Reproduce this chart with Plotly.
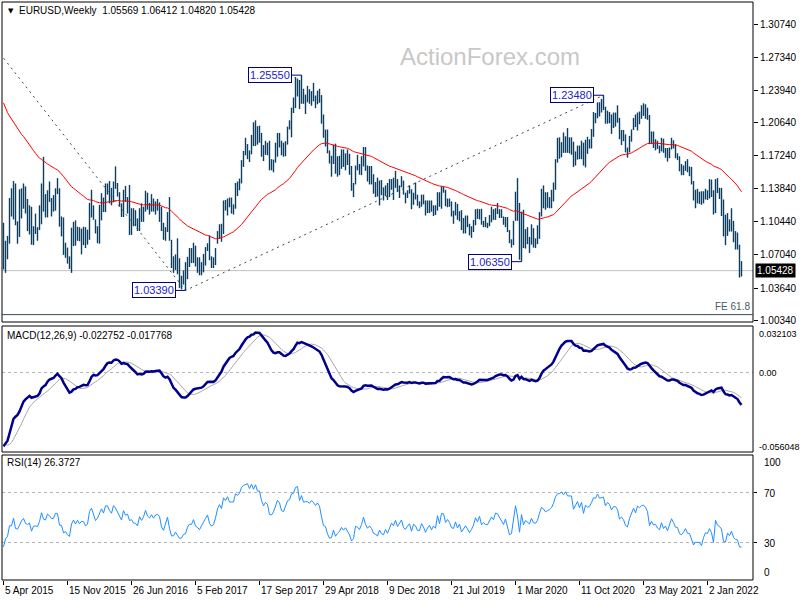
import numpy as np
import plotly.graph_objects as go

# ---------------------------------------------------------------- data
TITLE = "EURUSD,Weekly"
HEADER_OHLC = ["1.05569", "1.06412", "1.04820", "1.05428"]
DATE_LABELS = ["5 Apr 2015", "15 Nov 2015", "26 Jun 2016", "5 Feb 2017",
               "17 Sep 2017", "29 Apr 2018", "9 Dec 2018", "21 Jul 2019",
               "1 Mar 2020", "11 Oct 2020", "23 May 2021", "2 Jan 2022"]
DATE_LABEL_STEP = 32  # weeks between date labels

# weekly closes Jan 2014 - Mar 2015 (indicator warm-up only, not drawn)
PRE_CLOSE = [1.3590, 1.3540, 1.3675, 1.3485, 1.3630, 1.3690, 1.3740, 1.3800, 1.3870, 1.3910,
             1.3790, 1.3750, 1.3700, 1.3890, 1.3810, 1.3830, 1.3870, 1.3760, 1.3695, 1.3630,
             1.3635, 1.3640, 1.3545, 1.3600, 1.3645, 1.3590, 1.3605, 1.3525, 1.3430, 1.3415,
             1.3410, 1.3400, 1.3240, 1.3130, 1.2950, 1.2960, 1.2830, 1.2685, 1.2515, 1.2630,
             1.2760, 1.2670, 1.2485, 1.2450, 1.2525, 1.2390, 1.2450, 1.2290, 1.2465, 1.2225,
             1.2185, 1.2000,
             1.1840, 1.1565, 1.1205, 1.1290, 1.1315, 1.1385, 1.1380, 1.1195, 1.0840, 1.0495,
             1.0825, 1.0890, 1.0970]

# weekly bars, 5 Apr 2015 .. 1 May 2022
HIGH = [
    # 2015
    1.1035, 1.0850, 1.0900, 1.1290, 1.1390, 1.1465, 1.1440, 1.1050, 1.1380, 1.1390,
    1.1440, 1.1410, 1.1280, 1.1215, 1.1200, 1.1000, 1.1130, 1.0990, 1.1215, 1.1440,
    1.1715, 1.1330, 1.1370, 1.1460, 1.1290, 1.1320, 1.1390, 1.1495, 1.1390, 1.1100,
    1.1090, 1.0830, 1.0780, 1.0690, 1.0985, 1.1045, 1.1060, 1.0995, 1.0990,
    # 2016
    1.0975, 1.0995, 1.0990, 1.0965, 1.1240, 1.1375, 1.1215, 1.1070, 1.1000, 1.1220,
    1.1340, 1.1295, 1.1440, 1.1440, 1.1465, 1.1395, 1.1460, 1.1615, 1.1445, 1.1350,
    1.1235, 1.1375, 1.1415, 1.1300, 1.1425, 1.1185, 1.1185, 1.1165, 1.1080, 1.1185,
    1.1235, 1.1200, 1.1365, 1.1345, 1.1240, 1.1330, 1.1285, 1.1255, 1.1280, 1.1245,
    1.1200, 1.1035, 1.0990, 1.1145, 1.1300, 1.0860, 1.0690, 1.0710, 1.0875, 1.0670,
    1.0490, 1.0545,
    # 2017
    1.0630, 1.0685, 1.0775, 1.0775, 1.0830, 1.0800, 1.0680, 1.0680, 1.0630, 1.0715,
    1.0785, 1.0825, 1.0905, 1.0690, 1.0680, 1.0775, 1.0950, 1.1020, 1.1025, 1.1265,
    1.1270, 1.1285, 1.1295, 1.1295, 1.1225, 1.1445, 1.1460, 1.1490, 1.1680, 1.1775,
    1.1910, 1.1845, 1.1780, 1.1940, 1.2070, 1.2090, 1.2030, 1.2035, 1.1960, 1.1835,
    1.1880, 1.1860, 1.1880, 1.1690, 1.1685, 1.1860, 1.1960, 1.1960, 1.1880, 1.1860,
    1.1875, 1.2025, 1.2090,
    # 2018
    1.2220, 1.2325, 1.2535, 1.2520, 1.2505, 1.2555, 1.2415, 1.2355, 1.2445, 1.2410,
    1.2390, 1.2475, 1.2345, 1.2395, 1.2415, 1.2350, 1.2150, 1.1995, 1.1995, 1.1780,
    1.1725, 1.1840, 1.1850, 1.1720, 1.1725, 1.1790, 1.1790, 1.1750, 1.1790, 1.1745,
    1.1620, 1.1445, 1.1625, 1.1735, 1.1640, 1.1720, 1.1815, 1.1815, 1.1625, 1.1620,
    1.1620, 1.1535, 1.1455, 1.1500, 1.1470, 1.1475, 1.1400, 1.1420, 1.1445, 1.1485,
    1.1485, 1.1500,
    # 2019
    1.1570, 1.1485, 1.1420, 1.1515, 1.1470, 1.1345, 1.1370, 1.1420, 1.1380, 1.1345,
    1.1450, 1.1325, 1.1255, 1.1325, 1.1325, 1.1265, 1.1265, 1.1265, 1.1265, 1.1215,
    1.1215, 1.1350, 1.1350, 1.1410, 1.1410, 1.1375, 1.1285, 1.1285, 1.1255, 1.1160,
    1.1250, 1.1230, 1.1155, 1.1165, 1.1085, 1.1110, 1.1110, 1.1025, 1.1000, 1.1065,
    1.1175, 1.1180, 1.1175, 1.1180, 1.1055, 1.1095, 1.1035, 1.1115, 1.1200, 1.1175,
    1.1185, 1.1240,
    # 2020
    1.1175, 1.1175, 1.1100, 1.1095, 1.1095, 1.0960, 1.0865, 1.1055, 1.1355, 1.1495,
    1.1240, 1.1150, 1.1170, 1.0970, 1.0990, 1.0890, 1.1020, 1.0980, 1.0875, 1.1010,
    1.1145, 1.1385, 1.1420, 1.1350, 1.1350, 1.1300, 1.1375, 1.1450, 1.1690, 1.1910,
    1.1915, 1.1865, 1.1965, 1.1925, 1.2010, 1.1915, 1.1915, 1.1870, 1.1770, 1.1830,
    1.1830, 1.1880, 1.1860, 1.1890, 1.1920, 1.1895, 1.2000, 1.2175, 1.2165, 1.2275,
    1.2275, 1.2310,
    # 2021
    1.2350, 1.2230, 1.2190, 1.2175, 1.2150, 1.2170, 1.2170, 1.2245, 1.2115, 1.1990,
    1.1990, 1.1945, 1.1810, 1.1930, 1.1995, 1.2115, 1.2150, 1.2170, 1.2180, 1.2245,
    1.2265, 1.2255, 1.2220, 1.2145, 1.1975, 1.1975, 1.1895, 1.1880, 1.1830, 1.1910,
    1.1900, 1.1805, 1.1805, 1.1810, 1.1910, 1.1885, 1.1845, 1.1750, 1.1720, 1.1640,
    1.1625, 1.1670, 1.1690, 1.1615, 1.1610, 1.1465, 1.1375, 1.1385, 1.1355, 1.1360,
    1.1360, 1.1385,
    # 2022
    1.1370, 1.1485, 1.1480, 1.1370, 1.1485, 1.1495, 1.1395, 1.1395, 1.1275, 1.1120,
    1.1135, 1.1070, 1.1185, 1.1055, 1.0950, 1.0935, 1.0810, 1.0641,
]

LOW = [
    # 2015
    1.0555, 1.0520, 1.0660, 1.0820, 1.1100, 1.1070, 1.1010, 1.0820, 1.0890, 1.1080,
    1.1180, 1.1130, 1.0950, 1.0915, 1.0810, 1.0805, 1.0920, 1.0850, 1.0960, 1.1020,
    1.1150, 1.1090, 1.1090, 1.1250, 1.1100, 1.1150, 1.1160, 1.1330, 1.0995, 1.0895,
    1.0705, 1.0675, 1.0615, 1.0560, 1.0520, 1.0795, 1.0800, 1.0850, 1.0845,
    # 2016
    1.0710, 1.0805, 1.0775, 1.0810, 1.0860, 1.1090, 1.1065, 1.0925, 1.0825, 1.0820,
    1.1060, 1.1145, 1.1145, 1.1325, 1.1235, 1.1215, 1.1245, 1.1385, 1.1305, 1.1200,
    1.1095, 1.1095, 1.1250, 1.1130, 1.0910, 1.0910, 1.1000, 1.1000, 1.0950, 1.0950,
    1.1045, 1.1045, 1.1150, 1.1170, 1.1120, 1.1150, 1.1150, 1.1120, 1.1160, 1.1045,
    1.0950, 1.0860, 1.0850, 1.0940, 1.0850, 1.0570, 1.0520, 1.0550, 1.0505, 1.0365,
    1.0350, 1.0400,
    # 2017
    1.0340, 1.0455, 1.0580, 1.0620, 1.0620, 1.0585, 1.0520, 1.0495, 1.0495, 1.0525,
    1.0595, 1.0745, 1.0650, 1.0570, 1.0570, 1.0600, 1.0820, 1.0870, 1.0840, 1.0920,
    1.1160, 1.1110, 1.1195, 1.1130, 1.1120, 1.1180, 1.1310, 1.1370, 1.1440, 1.1610,
    1.1730, 1.1690, 1.1660, 1.1740, 1.1825, 1.1825, 1.1840, 1.1860, 1.1715, 1.1670,
    1.1735, 1.1730, 1.1575, 1.1575, 1.1555, 1.1655, 1.1715, 1.1810, 1.1730, 1.1715,
    1.1720, 1.1840, 1.1995,
    # 2018
    1.1915, 1.2165, 1.2215, 1.2335, 1.2205, 1.2260, 1.2260, 1.2155, 1.2275, 1.2260,
    1.2240, 1.2285, 1.2215, 1.2255, 1.2270, 1.2055, 1.1910, 1.1820, 1.1750, 1.1645,
    1.1510, 1.1640, 1.1540, 1.1510, 1.1525, 1.1590, 1.1610, 1.1575, 1.1630, 1.1530,
    1.1365, 1.1300, 1.1430, 1.1575, 1.1530, 1.1525, 1.1615, 1.1570, 1.1460, 1.1430,
    1.1430, 1.1335, 1.1300, 1.1305, 1.1215, 1.1320, 1.1265, 1.1310, 1.1270, 1.1300,
    1.1375, 1.1270,
    # 2019
    1.1395, 1.1355, 1.1290, 1.1400, 1.1325, 1.1235, 1.1290, 1.1335, 1.1175, 1.1220,
    1.1275, 1.1210, 1.1185, 1.1200, 1.1225, 1.1110, 1.1135, 1.1135, 1.1150, 1.1105,
    1.1115, 1.1160, 1.1200, 1.1180, 1.1345, 1.1205, 1.1195, 1.1200, 1.1100, 1.1025,
    1.1110, 1.1065, 1.1050, 1.0960, 1.0925, 1.0925, 1.0990, 1.0905, 1.0880, 1.0940,
    1.1010, 1.1075, 1.1070, 1.1015, 1.0990, 1.0990, 1.0980, 1.1000, 1.1040, 1.1065,
    1.1065, 1.1125,
    # 2020
    1.1085, 1.1085, 1.1015, 1.0990, 1.0940, 1.0825, 1.0780, 1.0805, 1.1055, 1.1055,
    1.0655, 1.0635, 1.0775, 1.0770, 1.0815, 1.0725, 1.0810, 1.0780, 1.0775, 1.0815,
    1.0870, 1.1100, 1.1185, 1.1170, 1.1190, 1.1185, 1.1185, 1.1255, 1.1375, 1.1655,
    1.1695, 1.1710, 1.1755, 1.1755, 1.1755, 1.1750, 1.1735, 1.1610, 1.1625, 1.1685,
    1.1690, 1.1690, 1.1625, 1.1605, 1.1745, 1.1800, 1.1800, 1.1920, 1.2060, 1.2110,
    1.2130, 1.2170,
    # 2021
    1.2195, 1.2055, 1.2055, 1.2060, 1.1950, 1.2010, 1.2025, 1.2065, 1.1895, 1.1835,
    1.1875, 1.1760, 1.1705, 1.1760, 1.1870, 1.1990, 1.2020, 1.1985, 1.2050, 1.2105,
    1.2135, 1.2105, 1.2095, 1.1845, 1.1845, 1.1805, 1.1780, 1.1795, 1.1750, 1.1770,
    1.1755, 1.1705, 1.1665, 1.1700, 1.1790, 1.1800, 1.1700, 1.1680, 1.1565, 1.1525,
    1.1525, 1.1570, 1.1555, 1.1515, 1.1430, 1.1265, 1.1185, 1.1235, 1.1230, 1.1220,
    1.1235, 1.1275,
    # 2022
    1.1270, 1.1285, 1.1300, 1.1120, 1.1135, 1.1340, 1.1280, 1.1105, 1.0895, 1.0805,
    1.0900, 1.0945, 1.0945, 1.0835, 1.0760, 1.0760, 1.0471, 1.0482,
]

CLOSE = [
    # 2015
    1.0600, 1.0810, 1.0875, 1.1200, 1.1200, 1.1450, 1.1015, 1.0985, 1.1110, 1.1260,
    1.1350, 1.1165, 1.1110, 1.1160, 1.0830, 1.0980, 1.0985, 1.0970, 1.1105, 1.1385,
    1.1180, 1.1150, 1.1340, 1.1290, 1.1200, 1.1210, 1.1360, 1.1350, 1.1015, 1.1005,
    1.0740, 1.0770, 1.0650, 1.0590, 1.0880, 1.0990, 1.0865, 1.0965, 1.0860,
    # 2016
    1.0920, 1.0915, 1.0795, 1.0830, 1.1155, 1.1255, 1.1130, 1.0935, 1.1000, 1.1150,
    1.1270, 1.1165, 1.1395, 1.1400, 1.1285, 1.1225, 1.1455, 1.1400, 1.1310, 1.1220,
    1.1110, 1.1365, 1.1250, 1.1280, 1.1115, 1.1135, 1.1050, 1.1040, 1.0975, 1.1175,
    1.1085, 1.1165, 1.1325, 1.1200, 1.1155, 1.1230, 1.1155, 1.1225, 1.1240, 1.1200,
    1.0970, 1.0880, 1.0985, 1.1140, 1.0850, 1.0590, 1.0590, 1.0665, 1.0560, 1.0450,
    1.0455, 1.0520,
    # 2017
    1.0530, 1.0645, 1.0700, 1.0695, 1.0780, 1.0640, 1.0615, 1.0560, 1.0620, 1.0670,
    1.0740, 1.0800, 1.0650, 1.0595, 1.0615, 1.0725, 1.0895, 1.0995, 1.0930, 1.1210,
    1.1165, 1.1280, 1.1195, 1.1195, 1.1195, 1.1425, 1.1400, 1.1470, 1.1665, 1.1750,
    1.1775, 1.1820, 1.1760, 1.1925, 1.1860, 1.2035, 1.1945, 1.1950, 1.1815, 1.1730,
    1.1820, 1.1785, 1.1610, 1.1605, 1.1665, 1.1795, 1.1935, 1.1895, 1.1770, 1.1750,
    1.1865, 1.2005, 1.2030,
    # 2018
    1.2200, 1.2220, 1.2425, 1.2460, 1.2250, 1.2410, 1.2295, 1.2310, 1.2310, 1.2285,
    1.2350, 1.2325, 1.2280, 1.2335, 1.2290, 1.2130, 1.1960, 1.1940, 1.1770, 1.1650,
    1.1660, 1.1770, 1.1610, 1.1655, 1.1685, 1.1745, 1.1685, 1.1720, 1.1655, 1.1570,
    1.1410, 1.1440, 1.1620, 1.1600, 1.1550, 1.1625, 1.1745, 1.1605, 1.1525, 1.1560,
    1.1510, 1.1400, 1.1385, 1.1335, 1.1415, 1.1335, 1.1315, 1.1380, 1.1305, 1.1370,
    1.1440, 1.1395,
    # 2019
    1.1470, 1.1365, 1.1410, 1.1455, 1.1325, 1.1295, 1.1335, 1.1365, 1.1235, 1.1325,
    1.1300, 1.1220, 1.1215, 1.1300, 1.1245, 1.1150, 1.1200, 1.1235, 1.1160, 1.1205,
    1.1170, 1.1335, 1.1210, 1.1370, 1.1370, 1.1225, 1.1270, 1.1220, 1.1125, 1.1110,
    1.1200, 1.1090, 1.1145, 1.0990, 1.1030, 1.1075, 1.1015, 1.0940, 1.0980, 1.1040,
    1.1145, 1.1080, 1.1165, 1.1020, 1.1050, 1.1020, 1.1015, 1.1060, 1.1120, 1.1080,
    1.1175, 1.1165,
    # 2020
    1.1120, 1.1090, 1.1025, 1.1090, 1.0945, 1.0830, 1.0845, 1.1025, 1.1285, 1.1105,
    1.0695, 1.1140, 1.0805, 1.0935, 1.0875, 1.0820, 1.0980, 1.0840, 1.0820, 1.0900,
    1.1100, 1.1290, 1.1255, 1.1180, 1.1220, 1.1245, 1.1300, 1.1430, 1.1655, 1.1775,
    1.1785, 1.1840, 1.1795, 1.1905, 1.1840, 1.1845, 1.1840, 1.1630, 1.1715, 1.1825,
    1.1720, 1.1860, 1.1645, 1.1875, 1.1835, 1.1855, 1.1965, 1.2120, 1.2110, 1.2255,
    1.2185, 1.2215,
    # 2021
    1.2220, 1.2080, 1.2170, 1.2135, 1.2045, 1.2120, 1.2120, 1.2075, 1.1915, 1.1950,
    1.1905, 1.1795, 1.1765, 1.1900, 1.1985, 1.2095, 1.2020, 1.2165, 1.2140, 1.2180,
    1.2195, 1.2165, 1.2105, 1.1865, 1.1935, 1.1865, 1.1875, 1.1805, 1.1770, 1.1870,
    1.1760, 1.1795, 1.1700, 1.1795, 1.1880, 1.1815, 1.1725, 1.1720, 1.1595, 1.1570,
    1.1600, 1.1645, 1.1560, 1.1555, 1.1445, 1.1290, 1.1320, 1.1315, 1.1315, 1.1240,
    1.1320, 1.1370,
    # 2022
    1.1360, 1.1410, 1.1345, 1.1145, 1.1450, 1.1350, 1.1320, 1.1270, 1.0930, 1.0910,
    1.1050, 1.0980, 1.1050, 1.0875, 1.0810, 1.0795, 1.0545, 1.05428,
]

PRICE_TICKS = [1.00340, 1.03640, 1.07040, 1.10440, 1.13840,
               1.17240, 1.20640, 1.23940, 1.27340, 1.30740]
LAST_PRICE = 1.05428
SWING_IDX = [-48, 91, 300]              # Fibonacci expansion anchor points
SWING_PRICE = [1.3993, 1.0339, 1.2348]
PIVOT_IDX = [149, 91, 259, 300]          # labelled highs / lows
PIVOT_PRICE = [1.25550, 1.03390, 1.06350, 1.23480]
FE_LEVEL = 1.0090
FE_TEXT = "FE 61.8"
EMA_PERIOD = 55
MACD_TEXT = "MACD(12,26,9) -0.022752 -0.017768"
MACD_LABELS = ["0.032103", "0.00", "-0.056048"]
MACD_MAX, MACD_MIN = 0.032103, -0.056048
RSI_TEXT = "RSI(14) 26.3727"
RSI_LEVELS = [70, 30]
RSI_LABELS = ["100", "70", "30", "0"]
WATERMARK = "ActionForex.com"

assert len(HIGH) == len(LOW) == len(CLOSE) == 370

# ---------------------------------------------------------------- indicators
def ema(v, n):
    a = 2.0 / (n + 1)
    out = np.empty(len(v))
    out[0] = v[0]
    for i in range(1, len(v)):
        out[i] = out[i - 1] + a * (v[i] - out[i - 1])
    return out


def sma(v, n):
    out = np.full(len(v), np.nan)
    c = np.cumsum(np.insert(v, 0, 0.0))
    out[n - 1:] = (c[n:] - c[:-n]) / n
    return out


def rsi(v, n=14):
    d = np.diff(v)
    g = np.where(d > 0, d, 0.0)
    l = np.where(d < 0, -d, 0.0)
    out = np.full(len(v), np.nan)
    ag, al = g[:n].mean(), l[:n].mean()
    out[n] = 100 - 100 / (1 + ag / al) if al > 0 else 100
    for i in range(n, len(d)):
        ag = (ag * (n - 1) + g[i]) / n
        al = (al * (n - 1) + l[i]) / n
        out[i + 1] = 100 - 100 / (1 + ag / al) if al > 0 else 100
    return out


full = np.array(PRE_CLOSE + CLOSE)
k = len(PRE_CLOSE)
ema_line = ema(full, EMA_PERIOD)[k:]
macd_full = ema(full, 12) - ema(full, 26)
sig_full = sma(macd_full, 9)
macd_line = macd_full[k:]
sig_line = sig_full[k:]
rsi_line = rsi(full, 14)[k:]

# ---------------------------------------------------------------- layout geometry (pixels)
W, H = 800, 600
BAR_X0, BAR_DX = 3.5, 2.0            # pixel x of bar 0, pixel step per bar
PLOT_L, PLOT_R = 2, 753
MAIN_T, MAIN_B = 2, 322
MACD_T, MACD_B = 327, 452
RSI_T, RSI_B = 455, 580
# main price scale: two reference ticks at pixel rows
PY_HI, P_HI = 24.7, 1.30740
PY_LO, P_LO = 288.0, 1.03640


def px_idx(px):
    return (px - BAR_X0) / BAR_DX


def price_at(py):
    return P_LO + (PY_LO - py) * (P_HI - P_LO) / (PY_LO - PY_HI)


def fx(px):
    return px / W


def fy(py):
    return 1 - py / H


FONT = "Liberation Sans, Arial, Helvetica, sans-serif"
BAR_COLOR = "#0d3d5f"
xr = [px_idx(PLOT_L), px_idx(PLOT_R)]
xd = [fx(PLOT_L), fx(PLOT_R)]
n = len(CLOSE)
idx = list(range(n))

fig = go.Figure()

# bars
bx, by = [], []
for i, (h, l) in enumerate(zip(HIGH, LOW)):
    bx += [i, i, None]
    by += [l, h, None]
fig.add_trace(go.Scatter(x=bx, y=by, mode="lines", line=dict(color=BAR_COLOR, width=1.4),
                         xaxis="x", yaxis="y", hoverinfo="skip"))
# EMA
fig.add_trace(go.Scatter(x=idx, y=ema_line, mode="lines", line=dict(color="#ff0000", width=1),
                         xaxis="x", yaxis="y", hoverinfo="skip"))
# Fibonacci expansion connecting lines
fig.add_trace(go.Scatter(x=SWING_IDX, y=SWING_PRICE, mode="lines",
                         line=dict(color="#2f4f4f", width=1, dash="2px,4px"),
                         xaxis="x", yaxis="y", hoverinfo="skip"))
# MACD
fig.add_trace(go.Scatter(x=idx, y=sig_line, mode="lines", line=dict(color="#a8a8a8", width=1),
                         xaxis="x2", yaxis="y2", hoverinfo="skip"))
fig.add_trace(go.Scatter(x=idx, y=macd_line, mode="lines", line=dict(color="#00008b", width=2.5),
                         xaxis="x2", yaxis="y2", hoverinfo="skip"))
# RSI
fig.add_trace(go.Scatter(x=idx, y=rsi_line, mode="lines", line=dict(color="#1e90ff", width=1),
                         xaxis="x3", yaxis="y3", hoverinfo="skip"))

shapes = []
annotations = []

# panel frames
for t, b in [(MAIN_T, MAIN_B), (MACD_T - 1, MACD_B), (RSI_T, RSI_B)]:
    shapes.append(dict(type="rect", xref="paper", yref="paper", x0=fx(PLOT_L), x1=fx(PLOT_R),
                       y0=fy(b), y1=fy(t), line=dict(color="#000000", width=1), layer="above"))

# current price line and FE level
shapes.append(dict(type="line", xref="paper", yref="y", x0=fx(PLOT_L), x1=fx(PLOT_R),
                   y0=LAST_PRICE, y1=LAST_PRICE, line=dict(color="#c0c0c0", width=1), layer="below"))
shapes.append(dict(type="line", xref="paper", yref="y", x0=fx(PLOT_L), x1=fx(PLOT_R),
                   y0=FE_LEVEL, y1=FE_LEVEL, line=dict(color="#3a4a55", width=1)))
annotations.append(dict(text=FE_TEXT, xref="paper", yref="y", x=fx(PLOT_R - 1), y=FE_LEVEL,
                        xanchor="right", yanchor="bottom", showarrow=False, yshift=1,
                        font=dict(family=FONT, size=10, color="#4a5a66")))

# MACD zero, RSI levels
shapes.append(dict(type="line", xref="paper", yref="y2", x0=fx(PLOT_L), x1=fx(PLOT_R),
                   y0=0, y1=0, line=dict(color="#b4b4b4", width=1, dash="3px,3px"), layer="below"))
for lv in RSI_LEVELS:
    shapes.append(dict(type="line", xref="paper", yref="y3", x0=fx(PLOT_L), x1=fx(PLOT_R),
                       y0=lv, y1=lv, line=dict(color="#b4b4b4", width=1, dash="3px,3px"),
                       layer="below"))

# pivot labels
for pi, pp in zip(PIVOT_IDX, PIVOT_PRICE):
    shapes.append(dict(type="line", xref="x", yref="y", x0=pi - 5, x1=pi, y0=pp, y1=pp,
                       line=dict(color="#000080", width=1)))
    annotations.append(dict(text=f"{pp:.5f}", xref="x", yref="y", x=pi - 5, y=pp,
                            xanchor="right", yanchor="middle", showarrow=False,
                            bgcolor="#ffffff", bordercolor="#000080", borderwidth=1, borderpad=1,
                            font=dict(family=FONT, size=11, color="#2222cc")))

# header
annotations.append(dict(text="\u25bc", xref="paper", yref="paper", x=fx(6), y=fy(11),
                        xanchor="left", yanchor="middle", showarrow=False,
                        font=dict(family="DejaVu Sans", size=7, color="#000000")))
annotations.append(dict(text=TITLE + "\u00a0\u00a0" + " ".join(HEADER_OHLC), xref="paper",
                        yref="paper", x=fx(17), y=fy(11), xanchor="left", yanchor="middle",
                        showarrow=False, font=dict(family=FONT, size=10, color="#000000")))
# watermark
annotations.append(dict(text=WATERMARK, xref="paper", yref="paper", x=fx(490), y=fy(57),
                        xanchor="center", yanchor="middle", showarrow=False,
                        font=dict(family=FONT, size=24, color="#c8c8c8")))
# current price tag
annotations.append(dict(text=f"{LAST_PRICE:.5f}", xref="paper", yref="y", x=fx(755), y=LAST_PRICE,
                        xanchor="left", yanchor="middle", showarrow=False, bgcolor="#000000",
                        borderpad=1, font=dict(family=FONT, size=10, color="#ffffff")))
# indicator titles
annotations.append(dict(text=MACD_TEXT, xref="paper", yref="paper", x=fx(5), y=fy(335),
                        xanchor="left", yanchor="middle", showarrow=False,
                        font=dict(family=FONT, size=10, color="#000000")))
annotations.append(dict(text=RSI_TEXT, xref="paper", yref="paper", x=fx(5), y=fy(463),
                        xanchor="left", yanchor="middle", showarrow=False,
                        font=dict(family=FONT, size=10, color="#000000")))
# indicator scale labels
for txt, py in zip(MACD_LABELS, [334, 373, 447]):
    annotations.append(dict(text=txt, xref="paper", yref="paper", x=fx(757), y=fy(py),
                            xanchor="left", yanchor="middle", showarrow=False,
                            font=dict(family=FONT, size=9, color="#000000")))
for txt, py in zip(RSI_LABELS, [462, 493, 543, 572]):
    annotations.append(dict(text=txt, xref="paper", yref="paper", x=fx(762), y=fy(py),
                            xanchor="left", yanchor="middle", showarrow=False,
                            font=dict(family=FONT, size=10, color="#000000")))
# date labels
for j, lab in enumerate(DATE_LABELS):
    annotations.append(dict(text=lab, xref="x3", yref="paper", x=j * DATE_LABEL_STEP, y=fy(590),
                            xanchor="left", yanchor="middle", showarrow=False, xshift=-1,
                            font=dict(family=FONT, size=10, color="#000000")))

common_x = dict(domain=xd, range=xr, showgrid=False, zeroline=False, showline=False,
                fixedrange=True, automargin=False)
fig.update_layout(
    template="none",
    width=W, height=H, autosize=False,
    margin=dict(l=0, r=0, t=0, b=0, pad=0, autoexpand=False),
    paper_bgcolor="#ffffff", plot_bgcolor="#ffffff",
    showlegend=False, hovermode=False,
    xaxis=dict(**common_x, anchor="y", showticklabels=False, ticks=""),
    xaxis2=dict(**common_x, anchor="y2", showticklabels=False, ticks=""),
    xaxis3=dict(**common_x, anchor="y3", showticklabels=False, ticks="outside", ticklen=4,
                tickcolor="#000000", tickvals=[j * DATE_LABEL_STEP for j in range(len(DATE_LABELS))]),
    yaxis=dict(domain=[fy(MAIN_B), fy(MAIN_T)], range=[price_at(MAIN_B), price_at(MAIN_T)],
               anchor="x", side="right", showgrid=False, zeroline=False, showline=False,
               tickvals=PRICE_TICKS, ticktext=[f"{v:.5f}" for v in PRICE_TICKS],
               ticks="outside", ticklen=4, tickcolor="#000000", automargin=False,
               tickfont=dict(family=FONT, size=10, color="#000000"), fixedrange=True),
    yaxis2=dict(domain=[fy(MACD_B), fy(MACD_T)], range=[MACD_MIN, MACD_MAX], anchor="x2",
                side="right", showgrid=False, zeroline=False, showline=False, automargin=False,
                showticklabels=False, ticks="", fixedrange=True),
    yaxis3=dict(domain=[fy(RSI_B), fy(RSI_T)], range=[0, 100], anchor="x3", side="right",
                showgrid=False, zeroline=False, showline=False, showticklabels=False,
                tickvals=RSI_LEVELS, ticks="outside", ticklen=3, tickcolor="#000000",
                automargin=False, fixedrange=True),
    shapes=shapes, annotations=annotations,
)

fig.write_html(
    "out.html",
    config={"displayModeBar": False, "staticPlot": True},
    post_script="document.body.style.margin='0';document.body.style.padding='0';"
                "document.documentElement.style.overflow='hidden';",
)
